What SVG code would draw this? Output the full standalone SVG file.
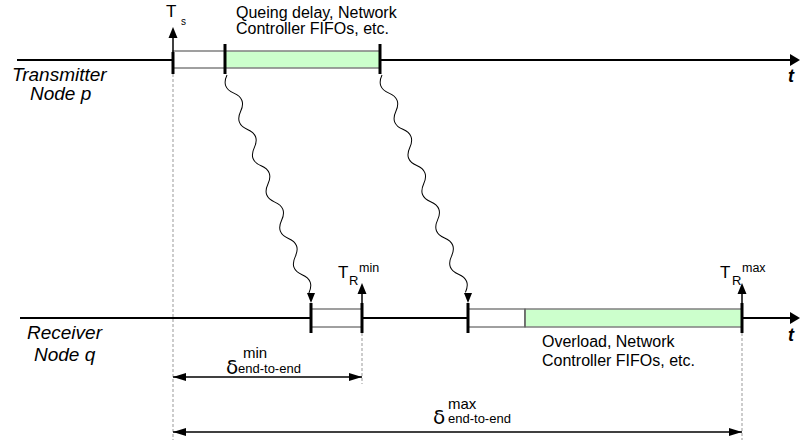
<svg xmlns="http://www.w3.org/2000/svg" xmlns:xlink="http://www.w3.org/1999/xlink" width="800" height="443" viewBox="0 0 800 443">
<style>
text{font-family:"Liberation Sans",Arial,sans-serif;fill:#000}
.lbl{font-size:19px;font-style:italic}
.t{font-size:18px;font-style:italic;font-weight:bold}
.ann{font-size:16px}
.axis{stroke:#000;stroke-width:2;fill:none}
.box{stroke:#808080;stroke-width:1.5}
.white{fill:#fff}
.green{fill:#ccffcc}
.tick{stroke:#000;stroke-width:3}
.dash{stroke:#999;stroke-width:1;stroke-dasharray:3,2;fill:none}
.wave{stroke:#000;stroke-width:1;fill:none}
.dim{stroke:#000;stroke-width:1.5;fill:none}
</style>
<defs>
<path id="wavy" d="M0 0 Q9.7 10 19.4 0 T38.8 0 T58.2 0 T77.6 0 T97 0 T116.4 0 T135.8 0 T155.2 0 T174.6 0 T194 0 T213.4 0 T232.8 0"/>
<marker id="ah" viewBox="0 0 13 8" refX="13" refY="4" markerWidth="13" markerHeight="8" markerUnits="userSpaceOnUse" orient="auto-start-reverse">
<path d="M0 0 L13 4 L0 8 Z" fill="#000"/>
</marker>
</defs>

<g id="guides">
<line class="dash" x1="173" y1="74" x2="173" y2="440"/>
<line class="dash" x1="362" y1="333" x2="362" y2="384"/>
<line class="dash" x1="742" y1="333" x2="742" y2="440"/>
</g>

<g id="transmitter-axis">
<line class="axis" x1="17" y1="60" x2="792" y2="60"/>
<path d="M790 54 L800 60 L790 66 Z" fill="#000"/>
<text class="t" x="788" y="82">t</text>
<text class="lbl" x="12" y="81">Transmitter</text>
<text class="lbl" x="30" y="100">Node p</text>
</g>

<g id="receiver-axis">
<line class="axis" x1="20" y1="318" x2="792" y2="318"/>
<path d="M790 312 L800 318 L790 324 Z" fill="#000"/>
<text class="t" x="788" y="341">t</text>
<text class="lbl" x="27" y="339">Receiver</text>
<text class="lbl" x="34" y="361">Node q</text>
</g>

<g id="tx-box">
<rect class="box white" x="173" y="51" width="52" height="17"/>
<rect class="box green" x="225" y="51" width="155" height="17"/>
<line class="tick" x1="173" y1="52" x2="173" y2="74"/>
<line class="tick" x1="225" y1="44" x2="225" y2="74"/>
<line class="tick" x1="380" y1="44" x2="380" y2="74"/>
<line x1="173" y1="52" x2="173" y2="36" stroke="#000" stroke-width="1.5"/>
<path d="M168.5 38 L173 27 L177.5 38 Z" fill="#000"/>
<text x="166" y="17" style="font-size:17px">T</text>
<text x="181" y="25" style="font-size:10px">s</text>
<text class="ann" x="236" y="18">Queing delay, Network</text>
<text class="ann" x="236" y="34">Controller FIFOs, etc.</text>
</g>

<g id="rx-box-min">
<rect class="box white" x="311" y="309" width="51" height="18"/>
<line class="tick" x1="311" y1="303" x2="311" y2="333"/>
<line class="tick" x1="362" y1="303" x2="362" y2="333"/>
<line x1="362" y1="303" x2="362" y2="292" stroke="#000" stroke-width="1.5"/>
<path d="M357.5 294 L362 283 L366.5 294 Z" fill="#000"/>
<text x="338" y="278" style="font-size:17px">T</text>
<text x="349" y="285" style="font-size:13px">R</text>
<text x="359" y="272" style="font-size:12.5px">min</text>
</g>

<g id="rx-box-max">
<rect class="box white" x="468" y="309" width="57" height="18"/>
<rect class="box green" x="525" y="309" width="217" height="18"/>
<line x1="525" y1="309" x2="525" y2="327" stroke="#555" stroke-width="1"/>
<line class="tick" x1="468" y1="303" x2="468" y2="333"/>
<line class="tick" x1="742" y1="303" x2="742" y2="333"/>
<line x1="742" y1="303" x2="742" y2="292" stroke="#000" stroke-width="1.5"/>
<path d="M737.5 294 L742 283 L746.5 294 Z" fill="#000"/>
<text x="720" y="278" style="font-size:17px">T</text>
<text x="732" y="285" style="font-size:13px">R</text>
<text x="742" y="272" style="font-size:12.5px">max</text>
<text class="ann" x="542" y="347">Overload, Network</text>
<text class="ann" x="542" y="366">Controller FIFOs, etc.</text>
</g>

<g id="connectors">
<use xlink:href="#wavy" class="wave" transform="translate(227,75) rotate(69.4)"/>
<path d="M307 293 L315 293 L311 303 Z" fill="#000"/>
<use xlink:href="#wavy" class="wave" transform="translate(382,75) rotate(69.0)"/>
<path d="M464 293 L472 293 L468 303 Z" fill="#000"/>
<line class="dim" x1="173" y1="377" x2="362" y2="377" marker-start="url(#ah)" marker-end="url(#ah)"/>
<line class="dim" x1="173" y1="432" x2="742" y2="432" marker-start="url(#ah)" marker-end="url(#ah)"/>
</g>

<g id="delta-min">
<text x="226" y="374" style="font-family:'DejaVu Sans',sans-serif;font-size:20px">δ</text>
<text x="243" y="358" style="font-size:15px">min</text>
<text x="238" y="373" style="font-size:13px">end-to-end</text>
</g>

<g id="delta-max">
<text x="433" y="424" style="font-family:'DejaVu Sans',sans-serif;font-size:20px">δ</text>
<text x="448" y="409" style="font-size:15px">max</text>
<text x="448" y="423" style="font-size:13px">end-to-end</text>
</g>
</svg>
